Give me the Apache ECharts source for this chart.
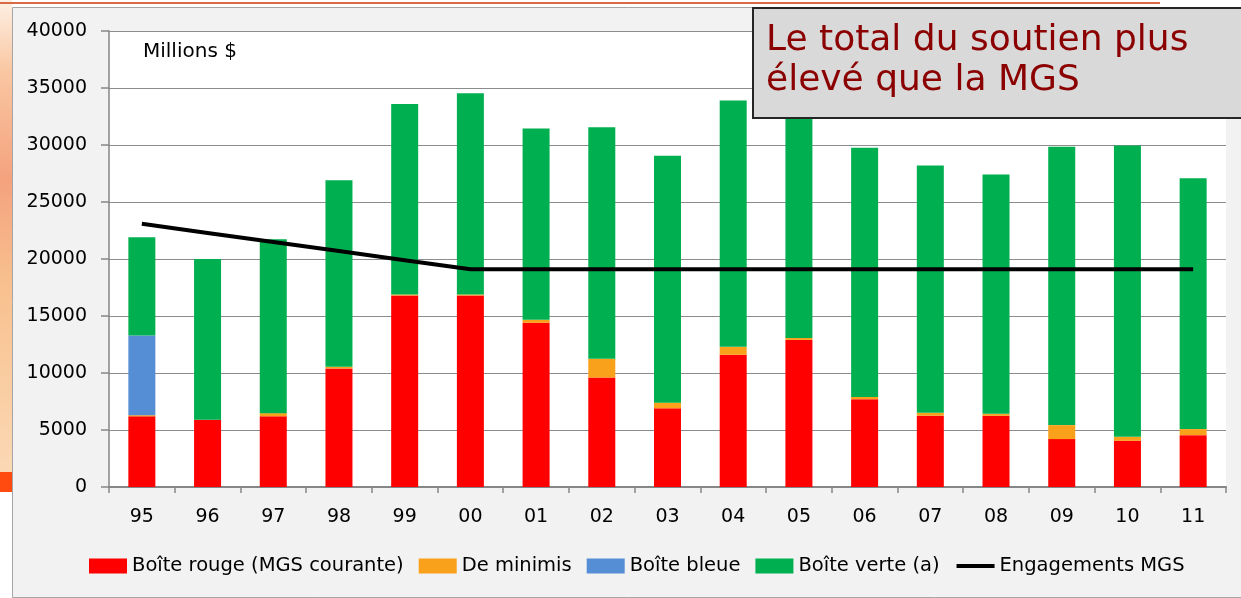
<!DOCTYPE html>
<html>
<head>
<meta charset="utf-8">
<style>
html,body{margin:0;padding:0;background:#fff;}
#chart{width:1241px;height:598px;}
</style>
<script src="https://cdn.jsdelivr.net/npm/echarts@6/dist/echarts.min.js"></script>
</head>
<body>
<div id="chart"></div>
<script>
// ---- data ----
var years = ['95','96','97','98','99','00','01','02','03','04','05','06','07','08','09','10','11'];
var boiteRouge = [6200, 5900, 6200, 10400, 16800, 16800, 14400, 9600, 6900, 11600, 12900, 7700, 6250, 6250, 4200, 4050, 4550];
var deMinimis  = [100, 0, 280, 150, 90, 90, 270, 1650, 500, 700, 170, 200, 260, 170, 1230, 350, 530];
var boiteBleue = [7000, 0, 0, 0, 0, 0, 0, 0, 0, 0, 0, 0, 0, 0, 0, 0, 0];
var boiteVerte = [8600, 14100, 15250, 16350, 16700, 17650, 16780, 20300, 21650, 21600, 19900, 21850, 21700, 21000, 24420, 25550, 22000];
var engagementsMGS = [23083, 22287, 21491, 20695, 19899, 19103, 19103, 19103, 19103, 19103, 19103, 19103, 19103, 19103, 19103, 19103, 19103];
var yTicks = {min: 0, max: 40000, interval: 5000};
var seriesNames = ['Boîte rouge (MGS courante)', 'De minimis', 'Boîte bleue', 'Boîte verte (a)', 'Engagements MGS'];
var unitLabel = 'Millions $';
var noteLines = ['Le total du soutien plus', 'élevé que la MGS'];

var FONT = '"DejaVu Sans", Verdana, sans-serif';
var chart = echarts.init(document.getElementById('chart'), null, {renderer: 'canvas'});

function barSeries(name, data, color) {
  return {
    name: name, type: 'bar', stack: 'total', data: data, barWidth: 27,
    itemStyle: {color: color}, emphasis: {disabled: true}, z: 2
  };
}

var option = {
  backgroundColor: '#ffffff',
  animation: false,
  textStyle: {fontFamily: FONT},
  grid: {
    left: 109, right: 15, top: 31, bottom: 111,
    show: true, backgroundColor: '#ffffff', borderWidth: 0
  },
  legend: {
    left: 89, top: 556, padding: 0,
    itemWidth: 38, itemHeight: 15, itemGap: 15,
    textStyle: {fontFamily: FONT, fontSize: 19.5, color: '#000'},
    data: [
      {name: seriesNames[0], icon: 'rect'},
      {name: seriesNames[1], icon: 'rect'},
      {name: seriesNames[2], icon: 'rect'},
      {name: seriesNames[3], icon: 'rect'},
      {name: seriesNames[4], itemStyle: {opacity: 0}, lineStyle: {width: 4, color: '#000'}}
    ]
  },
  xAxis: {
    type: 'category', data: years,
    axisLine: {lineStyle: {color: '#868686', width: 2}},
    axisTick: {show: true, length: 6, lineStyle: {color: '#868686', width: 1.5}},
    axisLabel: {fontFamily: FONT, fontSize: 19, color: '#000', margin: 21},
    splitLine: {show: false}
  },
  yAxis: {
    type: 'value', min: yTicks.min, max: yTicks.max, interval: yTicks.interval,
    axisLine: {show: true, lineStyle: {color: '#868686', width: 1.5}},
    axisTick: {show: true, length: 8, lineStyle: {color: '#868686', width: 1.5}},
    axisLabel: {fontFamily: FONT, fontSize: 19, color: '#000', margin: 22,
      formatter: function (v) { return String(v); }},
    splitLine: {show: true, lineStyle: {color: '#8c8c8c', width: 1.2}}
  },
  series: [
    barSeries(seriesNames[0], boiteRouge, '#FF0000'),
    barSeries(seriesNames[1], deMinimis, '#F9A11B'),
    barSeries(seriesNames[2], boiteBleue, '#558ED5'),
    barSeries(seriesNames[3], boiteVerte, '#00B050'),
    {
      name: seriesNames[4], type: 'line', data: engagementsMGS,
      symbol: 'none',
      lineStyle: {color: '#000', width: 4},
      itemStyle: {color: '#000'},
      emphasis: {disabled: true}, z: 5
    }
  ],
  graphic: [
    // slide background pieces
    {type: 'rect', z: -20, silent: true, shape: {x: 0, y: 0, width: 12, height: 472},
     style: {fill: new echarts.graphic.LinearGradient(0, 0, 0, 1, [
       {offset: 0, color: '#fdf0e4'}, {offset: 0.15, color: '#f9c7a2'},
       {offset: 0.38, color: '#f4a27e'}, {offset: 0.6, color: '#f8c08e'},
       {offset: 1, color: '#fbd8b4'}])}},
    {type: 'rect', z: -20, silent: true, shape: {x: 0, y: 472, width: 12, height: 20},
     style: {fill: '#ff4a10'}},
    {type: 'rect', z: -20, silent: true, shape: {x: 0, y: 2, width: 1160, height: 2},
     style: {fill: '#d86a45'}},
    // chart area frame
    {type: 'rect', z: -10, silent: true, shape: {x: 12.5, y: 7.5, width: 1240, height: 590},
     style: {fill: '#f2f2f2', stroke: '#a6a6a6', lineWidth: 1}},
    // unit label
    {type: 'text', z: 10, silent: true, left: 143, top: 42,
     style: {text: unitLabel, font: '20px ' + FONT, fill: '#000'}},
    // annotation box
    {type: 'rect', z: 100, silent: true, shape: {x: 753, y: 8, width: 500, height: 110},
     style: {fill: '#d9d9d9', stroke: '#262626', lineWidth: 2}},
    {type: 'text', z: 101, silent: true, left: 766, top: 21,
     style: {text: noteLines.join('\n'), font: '36px ' + FONT, fill: '#8B0000', lineHeight: 40}}
  ]
};
chart.setOption(option);
</script>
</body>
</html>
